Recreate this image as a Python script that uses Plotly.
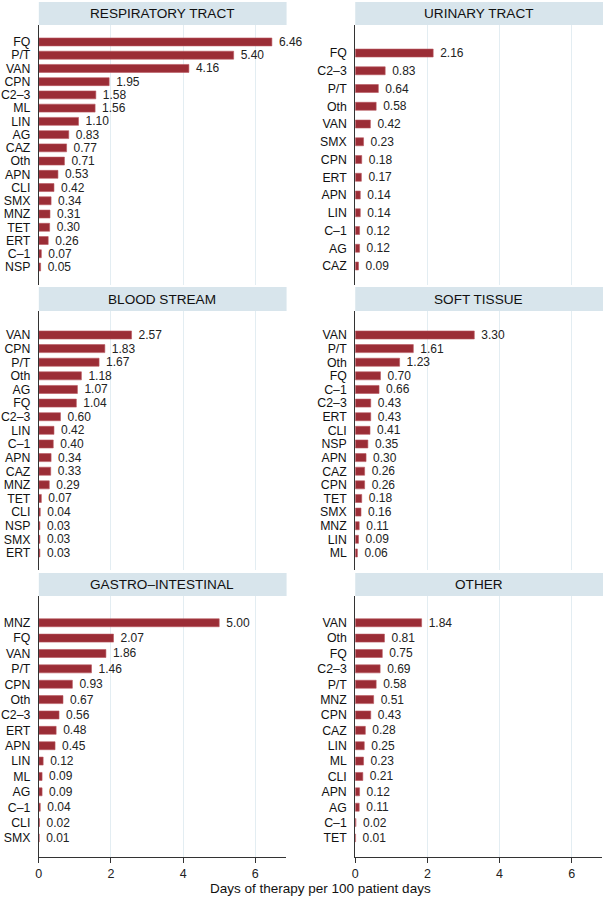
import plotly.graph_objects as go

# ---- data ----
resp_cats = ["FQ", "P/T", "VAN", "CPN", "C2–3", "ML", "LIN", "AG", "CAZ", "Oth", "APN", "CLI", "SMX", "MNZ", "TET", "ERT", "C–1", "NSP"]
resp_vals = [6.46, 5.40, 4.16, 1.95, 1.58, 1.56, 1.10, 0.83, 0.77, 0.71, 0.53, 0.42, 0.34, 0.31, 0.30, 0.26, 0.07, 0.05]

uri_cats = ["FQ", "C2–3", "P/T", "Oth", "VAN", "SMX", "CPN", "ERT", "APN", "LIN", "C–1", "AG", "CAZ"]
uri_vals = [2.16, 0.83, 0.64, 0.58, 0.42, 0.23, 0.18, 0.17, 0.14, 0.14, 0.12, 0.12, 0.09]

blood_cats = ["VAN", "CPN", "P/T", "Oth", "AG", "FQ", "C2–3", "LIN", "C–1", "APN", "CAZ", "MNZ", "TET", "CLI", "NSP", "SMX", "ERT"]
blood_vals = [2.57, 1.83, 1.67, 1.18, 1.07, 1.04, 0.60, 0.42, 0.40, 0.34, 0.33, 0.29, 0.07, 0.04, 0.03, 0.03, 0.03]

soft_cats = ["VAN", "P/T", "Oth", "FQ", "C–1", "C2–3", "ERT", "CLI", "NSP", "APN", "CAZ", "CPN", "TET", "SMX", "MNZ", "LIN", "ML"]
soft_vals = [3.30, 1.61, 1.23, 0.70, 0.66, 0.43, 0.43, 0.41, 0.35, 0.30, 0.26, 0.26, 0.18, 0.16, 0.11, 0.09, 0.06]

gi_cats = ["MNZ", "FQ", "VAN", "P/T", "CPN", "Oth", "C2–3", "ERT", "APN", "LIN", "ML", "AG", "C–1", "CLI", "SMX"]
gi_vals = [5.00, 2.07, 1.86, 1.46, 0.93, 0.67, 0.56, 0.48, 0.45, 0.12, 0.09, 0.09, 0.04, 0.02, 0.01]

oth_cats = ["VAN", "Oth", "FQ", "C2–3", "P/T", "MNZ", "CPN", "CAZ", "LIN", "ML", "CLI", "APN", "AG", "C–1", "TET"]
oth_vals = [1.84, 0.81, 0.75, 0.69, 0.58, 0.51, 0.43, 0.28, 0.25, 0.23, 0.21, 0.12, 0.11, 0.02, 0.01]

panel_titles = ["RESPIRATORY TRACT", "URINARY TRACT", "BLOOD STREAM", "SOFT TISSUE", "GASTRO–INTESTINAL", "OTHER"]
x_ticks = [0, 2, 4, 6]
x_title = "Days of therapy per 100 patient days"

panels = [
    (resp_cats, resp_vals), (uri_cats, uri_vals),
    (blood_cats, blood_vals), (soft_cats, soft_vals),
    (gi_cats, gi_vals), (oth_cats, oth_vals),
]

# ---- layout geometry (pixels in a 603x900 canvas) ----
W, H = 603, 900
col_x = [(36, 284), (354, 602)]
row_y = [(25, 285), (311, 570), (596, 857)]      # plot area top/bottom
strip_y = [(2, 25), (287, 311), (573, 596)]
# per-panel y-range (category index units, top->bottom) and bar width
yranges = [(-1.28, 18.36), (-1.58, 13.07), (-1.76, 17.25), (-1.76, 17.25), (-1.74, 15.24), (-1.74, 15.24)]
bar_widths = [0.60, 0.45, 0.59, 0.59, 0.52, 0.52]

FONT = "Liberation Sans, Arial, Helvetica, sans-serif"
BAR = "#9b2d36"
STRIP = "#d8e5ec"
GRID = "#e3edf2"

fig = go.Figure()
shapes = []
annotations = []

for i, (cats, vals) in enumerate(panels):
    r, c = divmod(i, 2)
    ax = "" if i == 0 else str(i + 1)
    fig.add_trace(go.Bar(
        x=vals, y=cats, orientation="h",
        width=bar_widths[i],
        marker=dict(color=BAR, line=dict(color="#b85860", width=0.6)),
        text=[f"\u2004{v:.2f}" for v in vals],
        textposition="outside",
        constraintext="none",
        cliponaxis=False,
        textfont=dict(family=FONT, size=12, color="#222"),
        xaxis="x" + ax, yaxis="y" + ax,
        showlegend=False, hoverinfo="skip",
    ))
    x0, x1 = col_x[c]
    t, b = row_y[r]
    bottom = (r == 2)
    fig.layout["xaxis" + ax] = dict(
        domain=[x0 / W, x1 / W], anchor="y" + ax,
        range=[0, 6.84], tickvals=x_ticks,
        showticklabels=bottom, ticks="outside" if bottom else "",
        ticklen=5, tickcolor="#333",
        showline=bottom, linecolor="#333", linewidth=1,
        showgrid=True, gridcolor=GRID, gridwidth=1,
        zeroline=False,
        tickfont=dict(family=FONT, size=12.5, color="#222"),
    )
    lo, hi = yranges[i]
    fig.layout["yaxis" + ax] = dict(
        domain=[1 - b / H, 1 - t / H], anchor="x" + ax,
        type="category", categoryorder="array", categoryarray=cats,
        tickmode="array", tickvals=cats, ticktext=cats,
        range=[hi, lo],
        showline=True, linecolor="#333", linewidth=1,
        ticks="", showgrid=False, zeroline=False,
        ticklabelstandoff=5,
        tickfont=dict(family=FONT, size=12.3, color="#111"),
    )
    s0, s1 = strip_y[r]
    shapes.append(dict(type="rect", xref="paper", yref="paper",
                       x0=x0 / W, x1=(x1 + 1) / W, y0=1 - s1 / H, y1=1 - s0 / H,
                       fillcolor=STRIP, line=dict(width=0), layer="below"))
    annotations.append(dict(text=panel_titles[i], xref="paper", yref="paper",
                            x=(x0 + x1) / 2 / W, y=1 - (s0 + s1) / 2 / H,
                            showarrow=False, xanchor="center", yanchor="middle",
                            font=dict(family=FONT, size=13.6, color="#111")))

annotations.append(dict(text=x_title, xref="paper", yref="paper",
                        x=319 / W, y=1 - 888 / H, showarrow=False,
                        xanchor="center", yanchor="middle",
                        font=dict(family=FONT, size=13.5, color="#111")))

fig.update_layout(
    width=W, height=H,
    margin=dict(l=0, r=0, t=0, b=0),
    paper_bgcolor="white", plot_bgcolor="white",
    shapes=shapes, annotations=annotations,
    bargap=0.3,
)

fig.write_html("out.html", config={"displayModeBar": False},
               post_script="document.body.style.margin='0';document.body.style.overflow='hidden';")
